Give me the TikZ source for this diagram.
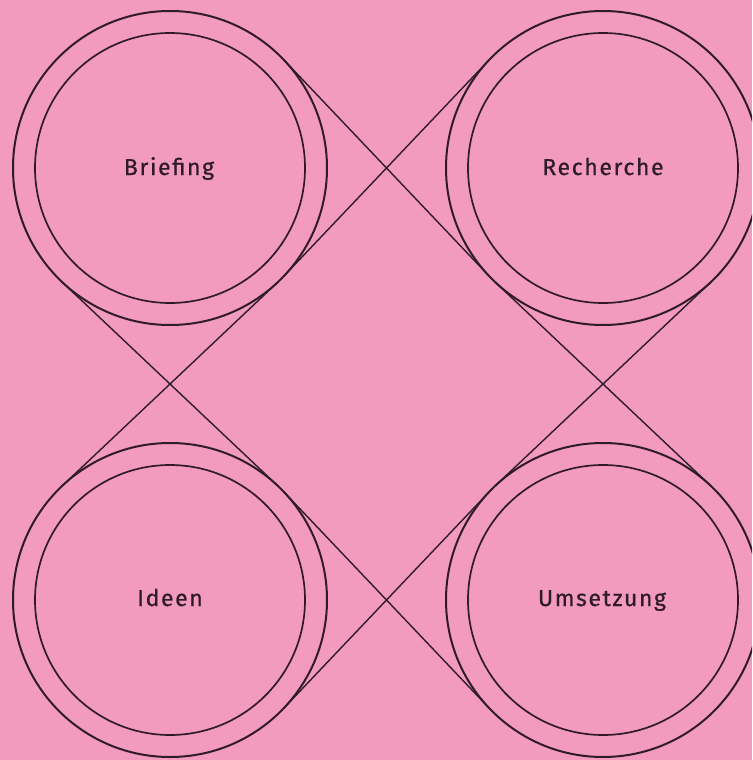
\documentclass[tikz,border=0pt]{standalone}
\usepackage{fontspec}
\setmainfont{Fira Sans}
\newfontfamily\labelfont{Fira Sans}[LetterSpace=7,FakeBold=0.7]
\usetikzlibrary{calc}
\definecolor{bg}{HTML}{F39AC1}
\definecolor{ink}{HTML}{301C28}
\begin{document}
\begin{tikzpicture}[x=1pt,y=-1pt,
  outerring/.style={circle,draw=ink,line width=2pt,minimum size=314pt,inner sep=0pt,outer sep=0pt},
  innerring/.style={circle,draw=ink,line width=1.7pt,minimum size=270pt,inner sep=0pt,outer sep=0pt},
  ringlabel/.style={anchor=base,inner sep=0pt,text=ink,font=\labelfont\fontsize{23}{27}\selectfont},
  tline/.style={draw=ink,line width=1.4pt}]
\useasboundingbox (0,0) rectangle (752,760);
\fill[bg] (0,0) rectangle (752,760);
\clip (0,0) rectangle (752,760);
% outer rings
\node[outerring] (oTL) at (170,168) {};
\node[outerring] (oTR) at (603,168) {};
\node[outerring] (oBL) at (170,600) {};
\node[outerring] (oBR) at (603,600) {};
% inner rings
\node[innerring] (iTL) at (170,168) {};
\node[innerring] (iTR) at (603,168) {};
\node[innerring] (iBL) at (170,600) {};
\node[innerring] (iBR) at (603,600) {};
% labels
\node[ringlabel] (lTL) at (169,175) {Briefing};
\node[ringlabel] (lTR) at (603,175) {Recherche};
\node[ringlabel] (lBL) at (170,606) {Ideen};
\node[ringlabel] (lBR) at (602,606) {Umsetzung};
% crossing points
\coordinate (cT) at ($(oTL.center)!0.5!(oTR.center)$);
\coordinate (cB) at ($(oBL.center)!0.5!(oBR.center)$);
\coordinate (cL) at ($(oTL.center)!0.5!(oBL.center)$);
\coordinate (cR) at ($(oTR.center)!0.5!(oBR.center)$);
% tangent points
\coordinate (tT1) at (tangent cs:node=oTL,point={(cT)},solution=1);
\coordinate (tT2) at (tangent cs:node=oTL,point={(cT)},solution=2);
\coordinate (tB1) at (tangent cs:node=oBL,point={(cB)},solution=1);
\coordinate (tB2) at (tangent cs:node=oBL,point={(cB)},solution=2);
\coordinate (tL1) at (tangent cs:node=oTL,point={(cL)},solution=1);
\coordinate (tL2) at (tangent cs:node=oTL,point={(cL)},solution=2);
\coordinate (tR1) at (tangent cs:node=oTR,point={(cR)},solution=1);
\coordinate (tR2) at (tangent cs:node=oTR,point={(cR)},solution=2);
\foreach \p/\c in {tT1/cT,tT2/cT,tB1/cB,tB2/cB,tL1/cL,tL2/cL,tR1/cR,tR2/cR}
  \draw[tline] (\p) -- ($(\p)!2!(\c)$);
\end{tikzpicture}
\end{document}
